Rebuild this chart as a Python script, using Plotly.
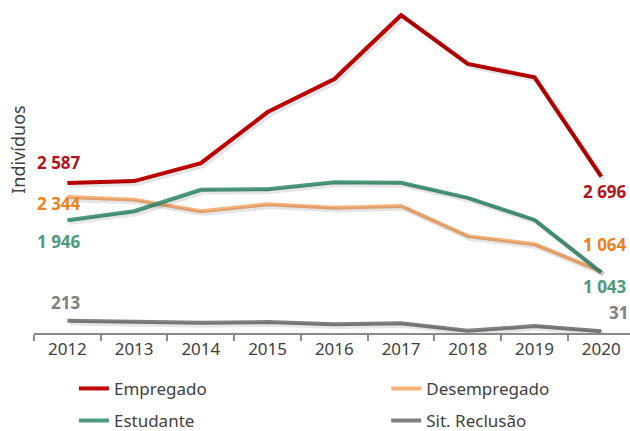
import plotly.graph_objects as go

years = ["2012", "2013", "2014", "2015", "2016", "2017", "2018", "2019", "2020"]

empregado = [2587, 2620, 2930, 3810, 4380, 5480, 4640, 4410, 2696]
desempregado = [2344, 2300, 2100, 2220, 2160, 2190, 1670, 1530, 1064]
estudante = [1946, 2100, 2470, 2480, 2600, 2590, 2330, 1950, 1043]
reclusao = [213, 195, 175, 190, 150, 170, 40, 120, 31]

def fmt(v):
    return f"{v:,}".replace(",", " ")

fnt = "Noto Sans"
fig = go.Figure()

series = [
    ("Empregado", empregado, "#C00000", "#B3121C", "legend"),
    ("Desempregado", desempregado, "#F9B27A", "#EC821F", "legend2"),
    ("Estudante", estudante, "#4C9A7D", "#4C9A7D", "legend3"),
    ("Sit. Reclusão", reclusao, "#808080", "#7F7F7F", "legend4"),
]

# soft drop shadow: same data on an overlay axis pair shifted by a couple of pixels
for name, vals, col, lcol, leg in series:
    fig.add_trace(go.Scatter(
        x=years, y=vals, mode="lines", xaxis="x2", yaxis="y2",
        line=dict(color="rgba(0,0,0,0.10)", width=5),
        hoverinfo="skip", showlegend=False,
    ))

for name, vals, col, lcol, leg in series:
    fig.add_trace(go.Scatter(
        x=years, y=vals, name=name, mode="lines",
        line=dict(color=col, width=4), legend=leg,
        hoverinfo="skip", showlegend=True,
    ))

# data labels at first and last year (x shift, y shift in px)
label_shifts = {
    "Empregado": ((-8, 20), (4, -15)),
    "Desempregado": ((-8, -6), (4, 27)),
    "Estudante": ((-8, -21), (4, -14)),
    "Sit. Reclusão": ((-2, 18), (17, 19)),
}
last = len(years) - 1
for name, vals, col, lcol, leg in series:
    (sx0, sy0), (sx1, sy1) = label_shifts[name]
    for i, sx, sy in ((0, sx0, sy0), (last, sx1, sy1)):
        fig.add_annotation(
            x=i, y=vals[i], xref="x", yref="y",
            text="<b>" + fmt(vals[i]) + "</b>",
            showarrow=False, xshift=sx, yshift=sy,
            font=dict(family=fnt, size=17, color=lcol),
        )

fig.add_annotation(
    xref="paper", yref="paper", x=-0.027, y=0.567, text="Indivíduos",
    xanchor="center", yanchor="middle",
    textangle=-90, showarrow=False,
    font=dict(family=fnt, size=18, color="#404040"),
)

xr = [-0.5, 8.43]
yr = [0, 5570]
fig.update_xaxes(
    type="category", range=xr, tickson="boundaries",
    ticks="outside", ticklen=6, tickwidth=2, tickcolor="#8a8a8a",
    showline=True, linecolor="#8a8a8a", linewidth=2, showgrid=False,
    tickfont=dict(family=fnt, size=17, color="#404040"), automargin=False,
)
fig.update_yaxes(range=yr, showticklabels=False, ticks="",
                 showline=False, showgrid=False, zeroline=False, automargin=False)

leg_common = dict(
    orientation="h", xanchor="left", yanchor="middle",
    font=dict(family=fnt, size=17, color="#404040"),
    bgcolor="rgba(0,0,0,0)",
)
col1, col2 = 0.067, 0.591
row1, row2 = -0.173, -0.272
fig.update_layout(
    width=630, height=431, showlegend=True,
    margin=dict(l=34, r=0, t=10, b=98, autoexpand=False),
    plot_bgcolor="white", paper_bgcolor="white",
    xaxis2=dict(type="category", overlaying="x", range=[xr[0] - 0.035, xr[1] - 0.035],
                visible=False),
    yaxis2=dict(overlaying="y", range=[yr[0] + 40, yr[1] + 40], visible=False),
    legend=dict(x=col1, y=row1, **leg_common),
    legend2=dict(x=col2, y=row1, **leg_common),
    legend3=dict(x=col1, y=row2, **leg_common),
    legend4=dict(x=col2, y=row2, **leg_common),
    font=dict(family=fnt),
)

# page margin off, so the 630x431 figure fills the window exactly
fig.write_html(
    "out.html",
    config={"displayModeBar": False},
    post_script="document.body.style.margin='0';document.body.style.overflow='hidden';",
)
